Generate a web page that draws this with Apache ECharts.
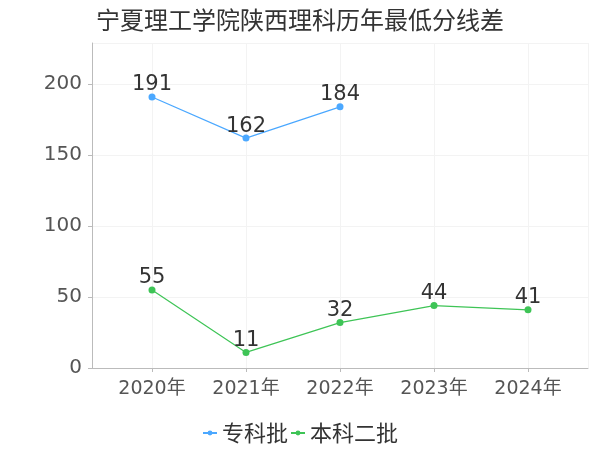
<!DOCTYPE html>
<html>
<head>
<meta charset="utf-8">
<script src="https://cdn.jsdelivr.net/npm/echarts@6/dist/echarts.min.js"></script>
<style>
  html, body { margin: 0; padding: 0; }
  #main { width: 600px; height: 450px; }
</style>
</head>
<body>
<div id="main"></div>
<script>
// 数据
const years = ['2020年', '2021年', '2022年', '2023年', '2024年'];
const zhuanke = [191, 162, 184, null, null];
const benke2 = [55, 11, 32, 44, 41];
const yTicks = [0, 50, 100, 150, 200];

const FONT = '"DejaVu Sans", "Noto Sans CJK SC", sans-serif';
const chart = echarts.init(document.getElementById('main'));

const labelStyle = {
  show: true,
  position: 'top',
  distance: -2,
  fontSize: 21,
  fontFamily: FONT,
  color: '#333'
};

chart.setOption({
  textStyle: { fontFamily: FONT },
  title: {
    text: '宁夏理工学院陕西理科历年最低分线差',
    left: 'center',
    top: 3,
    textStyle: { fontSize: 24, fontWeight: 'normal', color: '#333', fontFamily: '"Noto Sans CJK SC", sans-serif' }
  },
  legend: {
    bottom: 1,
    left: 'center',
    itemGap: 2,
    itemWidth: 14,
    itemHeight: 6,
    textStyle: { fontSize: 22, color: '#333', fontFamily: '"Noto Sans CJK SC", sans-serif' },
    data: ['专科批', '本科二批']
  },
  grid: [
    { left: 92, right: 12, top: 43, bottom: 82 },
    { left: 152, right: 72, top: 43, bottom: 82 }
  ],
  xAxis: [
    {
      // 外框
      gridIndex: 0,
      type: 'value',
      min: 0,
      max: 1,
      interval: 1,
      offset: 4,
      axisLine: { show: true, lineStyle: { color: '#bbb' } },
      axisTick: { show: false },
      axisLabel: { show: false },
      splitLine: { show: true, lineStyle: { color: '#f3f3f3' } }
    },
    {
      gridIndex: 1,
      type: 'category',
      data: years,
      boundaryGap: false,
      offset: 4,
      axisLine: { show: false },
      axisTick: { show: true, length: 4, lineStyle: { color: '#bbb' } },
      axisLabel: { fontSize: 19, color: '#555', margin: 8, fontFamily: FONT },
      splitLine: { show: true, lineStyle: { color: '#f3f3f3' } }
    }
  ],
  yAxis: [
    {
      gridIndex: 0,
      type: 'value',
      min: yTicks[0],
      max: 229,
      interval: 50,
      offset: 4,
      axisLine: { show: true, lineStyle: { color: '#bbb' } },
      axisTick: { show: true, length: 4, lineStyle: { color: '#bbb' } },
      axisLabel: { fontSize: 20, color: '#555', margin: 6, showMaxLabel: false, fontFamily: FONT },
      splitLine: { show: true, lineStyle: { color: '#f3f3f3' } }
    },
    {
      gridIndex: 1,
      type: 'value',
      min: yTicks[0],
      max: 229,
      show: false,
      splitLine: { show: false }
    }
  ],
  series: [
    {
      name: '专科批',
      type: 'line',
      xAxisIndex: 1,
      yAxisIndex: 1,
      data: zhuanke,
      symbol: 'circle',
      symbolSize: 7,
      color: '#4ba8ff',
      lineStyle: { width: 1.2 },
      label: labelStyle
    },
    {
      name: '本科二批',
      type: 'line',
      xAxisIndex: 1,
      yAxisIndex: 1,
      data: benke2,
      symbol: 'circle',
      symbolSize: 7,
      color: '#3ec456',
      lineStyle: { width: 1.2 },
      label: labelStyle
    }
  ]
});
</script>
</body>
</html>
